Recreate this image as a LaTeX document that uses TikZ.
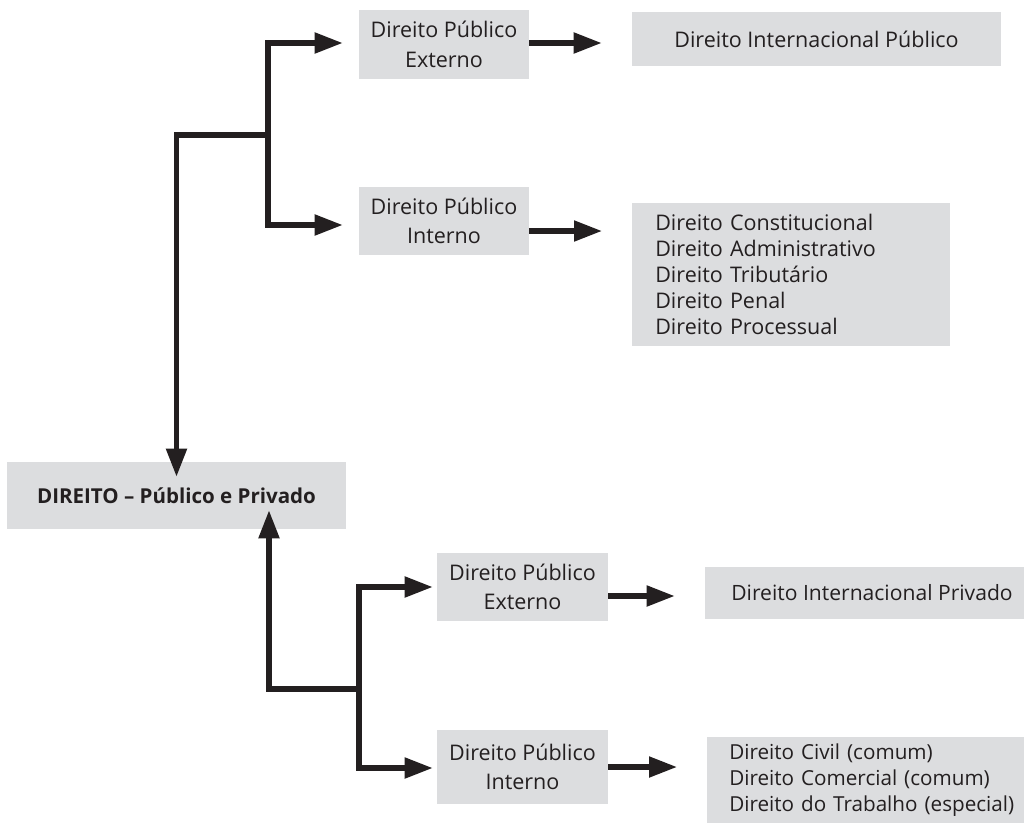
\documentclass[tikz,border=0pt]{standalone}
\usepackage{fontspec}
\setmainfont{Open Sans}
\usepackage{xcolor}
\usepackage{tikz}
\usetikzlibrary{calc}
\usetikzlibrary{arrows.meta}
\definecolor{ink}{HTML}{231F20}
\definecolor{boxgray}{HTML}{DCDDDF}
\tikzset{>={Triangle[length=0.7cm,width=0.5cm]}}
\tikzstyle{line} = [draw=ink, line width=3.6pt, ->]

\begin{document}
\begin{tikzpicture}[x=0.025cm, y=-0.025cm,
      font=\fontsize{15.3}{21}\selectfont,
      box/.style={fill=boxgray,
      text=ink,
      align=center,
      inner sep=0pt,
      minimum width=4.25cm,
      minimum height=1.72cm},
      list/.style={fill=boxgray,
      text=ink,
      anchor=west,
      align=left,
      inner ysep=0pt,
      font=\fontsize{15.3}{18.6}\selectfont}]
    \useasboundingbox (0,0) rectangle (1024,823);
    \node [box, minimum width=8.475cm, minimum height=1.675cm,
      font=\fontsize{14.6}{20}\selectfont\bfseries] (M) at (176.5,495.5) {DIREITO -- Público e Privado};
    %% Direito publico
    \node [box] (pe1) at (444,44.5) {Direito Público\\Externo};
    \node [box] (pi1) at (444,221) {Direito Público\\Interno};
    \node [box, minimum width=9.225cm, minimum height=1.35cm] (dip) at (816.5,39) {Direito Internacional Público};
    \node [list, inner xsep=0.575cm, text width=6.8cm, minimum height=3.575cm] (list1) at (632,274.5)
      {Direito Constitucional\\Direito Administrativo\\Direito Tributário\\Direito Penal\\Direito Processual};
    %% Direito privado
    \node [box, minimum width=4.275cm, minimum height=1.7cm] (pe2) at (522.5,587) {Direito Público\\Externo};
    \node [box, minimum width=4.275cm, minimum height=1.85cm] (pi2) at (522.5,767) {Direito Público\\Interno};
    \node [box, minimum width=8.35cm, minimum height=1.3cm, font=\fontsize{15}{21}\selectfont] (dipr) at (872,593) {Direito Internacional Privado};
    \node [list, inner xsep=0.55cm, text width=7.8cm, minimum height=2.15cm,
      font=\fontsize{14.7}{18.6}\selectfont] (list2) at (707,780)
      {Direito Civil (comum)\\Direito Comercial (comum)\\Direito do Trabalho (especial)};
    \coordinate (t1) at (268,135);
    \coordinate (t2) at (359,689);
    %% Arrows
    \path [line] (t1) -| ($(M.north)+(0,15)$);
    \path [line] (t1) |- ($(pe1.west)+(-16,-1.5)$);
    \path [line] (t1) |- ($(pi1.west)+(-16,4)$);
    \path [line] ($(pe1.east)+(0,-1.5)$) -- ($(pe1.east -| dip.west)+(-30,-1.5)$);
    \path [line] ($(pi1.east)+(0,10)$) -- ($(pi1.east -| list1.west)+(-30,10)$);
    \path [line] (t2) -| ($(M.south)+(92.5,-19)$);
    \path [line] (t2) |- ($(pe2.west)+(-4,0)$);
    \path [line] (t2) |- ($(pi2.west)+(-4,1)$);
    \path [line] ($(pe2.east)+(0,9)$) -- ($(pe2.east -| dipr.west)+(-30,9)$);
    \path [line] (pi2.east) -- ($(pi2.east -| list2.west)+(-30,0)$);
  \end{tikzpicture}
\end{document}
